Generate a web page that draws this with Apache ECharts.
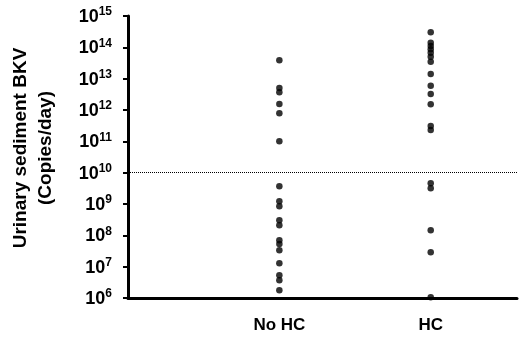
<!DOCTYPE html>
<html><head><meta charset="utf-8">
<script src="https://cdn.jsdelivr.net/npm/echarts@6/dist/echarts.min.js"></script>
<style>html,body{margin:0;padding:0;background:#fff}#c{width:520px;height:339px}</style>
</head><body><div id="c"></div>
<script>
const categories = ['No HC', 'HC'];
// log10 of copies/day
const noHcLog = [13.59, 12.70, 12.57, 12.19, 11.90, 11.0, 9.57, 9.09, 8.93, 8.48, 8.32, 7.84, 7.72, 7.52, 7.11, 6.73, 6.57, 6.25];
const hcLog = [14.48, 14.15, 14.04, 13.94, 13.83, 13.70, 13.54, 13.15, 12.77, 12.51, 12.18, 11.49, 11.36, 9.66, 9.50, 8.16, 7.46, 6.02];
const thresholdLog = 10;
const yMinExp = 6, yMaxExp = 15;

const seriesLogs = [noHcLog, hcLog];
const data = [];
seriesLogs.forEach((arr, i) => arr.forEach(v => data.push([i + 1, Math.pow(10, v)])));

const FONT = 'Liberation Sans, Arial, sans-serif';
const chart = echarts.init(document.getElementById('c'));
chart.setOption({
  animation: false,
  grid: {left: 104, right: 3, top: 16, bottom: 41},
  xAxis: {
    type: 'value', min: 0, max: 2.57, interval: 1,
    splitLine: {show: false},
    axisLine: {lineStyle: {color: '#000', width: 3}},
    axisTick: {show: false},
    axisLabel: {
      margin: 19, color: '#000', fontFamily: FONT, fontWeight: 'bold', fontSize: 17,
      formatter: v => (v >= 1 && v <= categories.length && Number.isInteger(v)) ? categories[v - 1] : ''
    }
  },
  yAxis: {
    type: 'log', logBase: 10, min: Math.pow(10, yMinExp), max: Math.pow(10, yMaxExp),
    splitLine: {show: false},
    axisLine: {lineStyle: {color: '#000', width: 3}},
    axisTick: {show: true, length: 5, lineStyle: {color: '#000', width: 2}},
    axisLabel: {
      margin: 16, color: '#000',
      formatter: v => '{b|10}{s|' + Math.round(Math.log10(v)) + '}',
      rich: {
        b: {fontFamily: FONT, fontWeight: 'bold', fontSize: 18, color: '#000', verticalAlign: 'bottom'},
        s: {fontFamily: FONT, fontWeight: 'bold', fontSize: 12, color: '#000', verticalAlign: 'top', padding: [0, 0, 8, 0]}
      }
    },
    name: 'Urinary sediment BKV\n(Copies/day)',
    nameLocation: 'middle', nameGap: 70, nameRotate: 90,
    nameTextStyle: {fontFamily: FONT, fontWeight: 'bold', fontSize: 19, color: '#000', lineHeight: 25, padding: [0, 0, 0, 18]}
  },
  series: [{
    type: 'scatter', data: data, symbolSize: 6.5,
    itemStyle: {color: '#000'},
    markLine: {
      silent: true, symbol: 'none', label: {show: false},
      lineStyle: {color: '#000', type: 'dotted', width: 1},
      data: [{yAxis: Math.pow(10, thresholdLog)}]
    }
  }]
});
</script></body></html>
